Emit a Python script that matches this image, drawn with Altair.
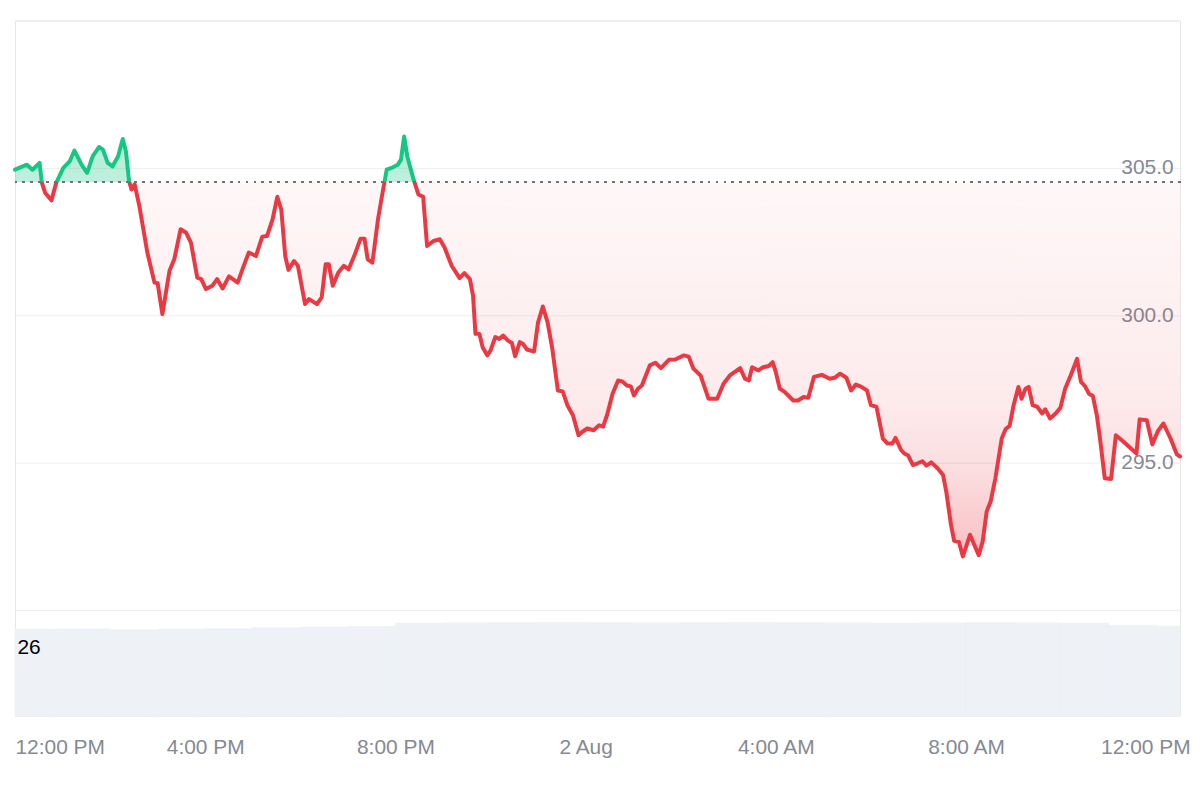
import altair as alt
import pandas as pd

# ---- data ----
minutes = [0, 15, 22, 31, 34, 38, 46, 52, 61, 69, 75, 84, 91, 98, 106, 111, 117, 123, 130, 136,
           140, 144, 147, 151, 157, 167, 176, 180, 186, 195, 201, 209, 216, 222, 230, 235, 241, 249,
           255, 262, 270, 281, 287, 295, 304, 312, 318, 325, 331, 336, 341, 345, 352, 357, 366, 371,
           381, 387, 392, 396, 401, 408, 415, 421, 428, 436, 441, 445, 451, 458, 463, 469, 475, 483,
           487, 491, 495, 503, 509, 515, 520, 528, 536, 542, 551, 561, 567, 574, 578, 581, 586, 590,
           596, 600, 606, 611, 616, 622, 627, 631, 637, 641, 646, 655, 660, 666, 672, 678, 685, 691,
           697, 704, 711, 716, 722, 730, 737, 742, 747, 754, 761, 766, 772, 777, 781, 786, 791, 801,
           808, 815, 825, 833, 844, 850, 856, 865, 875, 886, 894, 902, 915, 921, 926, 930, 938, 944,
           951, 956, 960, 965, 971, 982, 988, 995, 1001, 1008, 1018, 1028, 1034, 1041, 1049, 1055,
           1061, 1068, 1075, 1080, 1087, 1095, 1101, 1107, 1111, 1118, 1122, 1127, 1133, 1139, 1145,
           1150, 1156, 1164, 1171, 1175, 1181, 1185, 1191, 1196, 1205, 1216, 1221, 1226, 1231, 1237,
           1245, 1250, 1255, 1260, 1266, 1270, 1275, 1279, 1284, 1290, 1296, 1300, 1306, 1313, 1319,
           1325, 1332, 1340, 1345, 1350, 1355, 1360, 1365, 1369, 1375, 1383, 1389, 1398, 1415, 1419,
           1428, 1435, 1442, 1449, 1458, 1466, 1470]
price = [304.94, 305.11, 304.94, 305.17, 304.49, 304.16, 303.90, 304.49, 305.00, 305.22, 305.59,
         305.11, 304.83, 305.39, 305.71, 305.62, 305.17, 305.05, 305.39, 305.98, 305.56, 304.55,
         304.27, 304.44, 303.70, 302.13, 301.11, 301.09, 300.04, 301.51, 301.90, 302.92, 302.80,
         302.47, 301.28, 301.23, 300.89, 301.00, 301.23, 300.91, 301.32, 301.11, 301.56, 302.13,
         302.01, 302.67, 302.69, 303.25, 304.02, 303.59, 302.01, 301.54, 301.84, 301.68, 300.38,
         300.55, 300.38, 300.61, 301.73, 301.73, 301.00, 301.45, 301.68, 301.56, 302.01, 302.60,
         302.60, 301.90, 301.79, 303.25, 304.04, 304.94, 305.00, 305.11, 305.28, 306.07, 305.39,
         304.60, 304.10, 304.02, 302.35, 302.52, 302.58, 302.30, 301.68, 301.26, 301.43, 301.23,
         300.66, 299.37, 299.37, 298.92, 298.64, 298.80, 299.26, 299.20, 299.31, 299.14, 299.06,
         298.61, 299.09, 299.03, 298.84, 298.77, 299.76, 300.30, 299.76, 298.86, 297.45, 297.42,
         296.95, 296.61, 295.93, 296.05, 296.16, 296.10, 296.27, 296.22, 296.61, 297.34, 297.79,
         297.76, 297.62, 297.59, 297.28, 297.51, 297.62, 298.30, 298.39, 298.21, 298.49, 298.50,
         298.64, 298.60, 298.19, 297.96, 297.17, 297.17, 297.68, 297.96, 298.21, 297.85, 297.79,
         298.24, 298.13, 298.24, 298.28, 298.41, 298.07, 297.51, 297.40, 297.11, 297.11, 297.23,
         297.20, 297.91, 297.98, 297.85, 297.88, 298.02, 297.88, 297.45, 297.65, 297.57, 297.45,
         296.95, 296.89, 295.82, 295.65, 295.65, 295.84, 295.43, 295.31, 295.24, 294.92, 294.98,
         295.05, 294.90, 295.01, 294.81, 294.58, 294.02, 292.89, 292.35, 292.31, 291.82, 292.55,
         291.86, 292.33, 293.34, 293.68, 294.47, 295.82, 296.14, 296.25, 296.95, 297.57, 297.17,
         297.51, 297.57, 296.95, 296.89, 296.67, 296.81, 296.50, 296.67, 296.86, 297.51, 297.96,
         298.52, 297.74, 297.60, 297.34, 297.26, 296.61, 295.82, 294.47, 294.45, 295.93, 295.73,
         295.31, 296.47, 296.44, 295.62, 296.07, 296.33, 295.82, 295.28, 295.21]
base_price = 304.52

vol_hours = list(range(25))
volume = [31.8, 31.9, 31.6, 31.8, 32.0, 32.4, 32.6, 32.8, 34.0, 34.1, 34.2, 34.3, 34.2, 34.1,
          34.2, 34.3, 34.2, 34.1, 34.0, 34.1, 34.2, 34.1, 34.0, 33.2, 32.9]
vol_label = [26]

price_ticks = [290, 295, 300, 305, 310]
tick_hours = [0, 4, 8, 12, 16, 20, 24]

# ---- frames ----
start = pd.Timestamp("2024-08-01 12:00:00")
end = start + pd.Timedelta(minutes=1470)
df = pd.DataFrame({"t": start + pd.to_timedelta(minutes, unit="m"), "p": price})
df["base"] = base_price
vdf = pd.DataFrame({
    "vs": start + pd.to_timedelta(vol_hours, unit="h"),
    "ve": [min(start + pd.Timedelta(hours=h + 1), end) for h in vol_hours],
    "vol": volume,
})


def dt(ts):
    return alt.DateTime(year=ts.year, month=ts.month, date=ts.day, hours=ts.hour, minutes=ts.minute)


FONT = "Liberation Sans"
GREY = "#858a93"

x_scale = alt.Scale(domain=[dt(start), dt(end)])
x_axis = alt.Axis(
    values=[dt(start + pd.Timedelta(hours=h)) for h in tick_hours],
    labelExpr="hours(datum.value) == 0 ? timeFormat(datum.value, '%-d %b') : timeFormat(datum.value, '%-I:%M %p')",
    labelFlush=True,
    labelOffset={"condition": {"test": "hours(datum.value) == 12 && date(datum.value) == 2", "value": -11}, "value": 0},
    grid=False, domain=False, ticks=False, tickSize=0, labelPadding=21,
    labelFontSize=21, labelColor=GREY, labelFont=FONT, title=None,
)

vmax, vmin = max(price), min(price)
t = (vmax - base_price) / (vmax - vmin)

GREEN = "#16c784"
RED = "#ea3943"

line_grad = alt.Gradient(
    gradient="linear", x1=0, x2=0, y1=0, y2=1,
    stops=[alt.GradientStop(color=GREEN, offset=0), alt.GradientStop(color=GREEN, offset=t),
           alt.GradientStop(color=RED, offset=t), alt.GradientStop(color=RED, offset=1)],
)


def red_off(f):
    return t + f * (1 - t)


area_grad = alt.Gradient(
    gradient="linear", x1=0, x2=0, y1=0, y2=1,
    stops=[alt.GradientStop(color="rgba(22,199,132,0.32)", offset=0),
           alt.GradientStop(color="rgba(22,199,132,0.28)", offset=t),
           alt.GradientStop(color="rgba(234,57,67,0.04)", offset=t),
           alt.GradientStop(color="rgba(234,57,67,0.10)", offset=red_off(0.58)),
           alt.GradientStop(color="rgba(234,57,67,0.17)", offset=red_off(0.77)),
           alt.GradientStop(color="rgba(234,57,67,0.32)", offset=1)],
)

y_price = alt.Y(
    "p:Q",
    scale=alt.Scale(domain=[290, 310], range=[592, 0], nice=False, zero=False),
    axis=alt.Axis(
        orient="right", values=price_ticks,
        labelExpr="(datum.value == 290 || datum.value == 310) ? '' : format(datum.value, '.1f')",
        grid=True, gridColor="#eeeeee", gridWidth=1, domain=False, ticks=False, tickSize=0,
        labelPadding=-7, labelAlign="right", labelBaseline="middle",
        labelFontSize=21, labelColor=GREY, labelFont=FONT, title=None,
    ),
)

area = alt.Chart(df).mark_area(fill=area_grad, interpolate="linear").encode(
    x=alt.X("t:T", scale=x_scale, axis=x_axis), y=y_price, y2="base:Q"
)
line = alt.Chart(df).mark_line(stroke=line_grad, strokeWidth=4, strokeJoin="round", strokeCap="round").encode(
    x=alt.X("t:T", scale=x_scale), y=alt.Y("p:Q")
)
rule = alt.Chart(df).mark_rule(color="#6f737a", strokeWidth=1.5, strokeDash=[2, 6]).encode(
    y=alt.datum(base_price)
)
price_layer = alt.layer(area, line, rule)

vol = alt.Chart(vdf).mark_rect(color="#eef1f6", stroke="#eef1f6", strokeWidth=0.5).encode(
    x=alt.X("vs:T", scale=x_scale, axis=x_axis),
    x2="ve:T",
    y=alt.Y("vol:Q",
            scale=alt.Scale(domain=[0, 34.4], range=[698, 604], nice=False, zero=True),
            axis=alt.Axis(orient="left", values=vol_label, grid=False, domain=False, ticks=False,
                          tickSize=0, labelAlign="left", labelPadding=-2, labelBaseline="middle",
                          labelOffset=3, labelFontSize=21, labelColor="#000000", labelFont=FONT,
                          title=None, zindex=2)),
    y2=alt.datum(0),
)

chart = alt.layer(vol, price_layer).resolve_scale(y="independent").properties(
    width=1170, height=698,
    autosize=alt.AutoSizeParams(type="none"),
    padding={"left": 7, "top": 11, "right": 12, "bottom": 50},
    background="white",
).configure_view(stroke="#e6e6e6", strokeWidth=1)

chart.save("out.html", embed_options={"renderer": "svg", "actions": False})
